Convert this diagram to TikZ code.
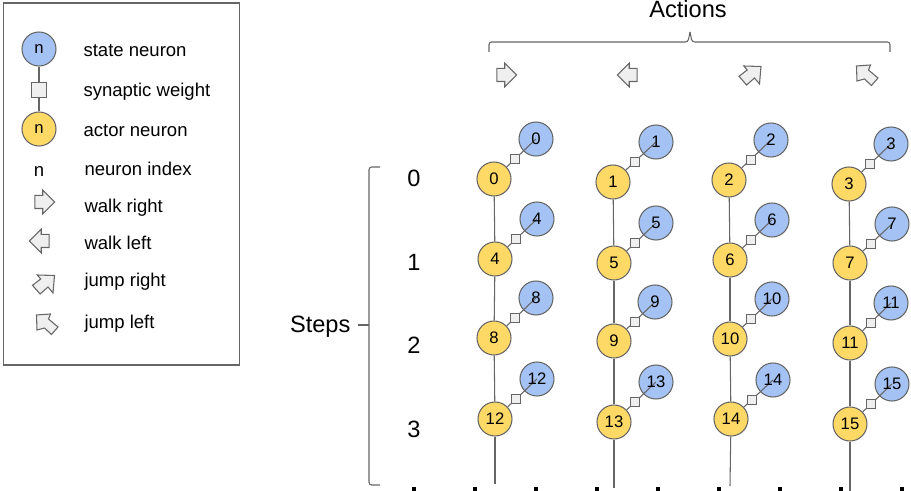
\documentclass[tikz,border=0pt]{standalone}
\usepackage{fontspec}
\setmainfont{Liberation Sans}
\usetikzlibrary{shapes.arrows}
\definecolor{stateblue}{HTML}{A4C2F4}
\definecolor{actoryellow}{HTML}{FFD966}
\definecolor{weightgray}{HTML}{EFEFEF}
\definecolor{linegray}{HTML}{666666}
\begin{document}
\begin{tikzpicture}[x=0.75pt,y=-0.75pt,
                      line width=0.8pt,
                      state node/.style={circle,fill=stateblue,draw=linegray,inner sep=0pt,minimum size=25.5pt},
                      actor node/.style={circle,fill=actoryellow,draw=linegray,inner sep=0pt,minimum size=25.5pt,font=\fontsize{12.5}{14}\selectfont},
                      weight node/.style={rectangle,fill=weightgray,draw=linegray,inner sep=0pt,minimum size=7pt},
                      big weight node/.style={rectangle,fill=weightgray,draw=linegray,inner sep=0pt,minimum size=11.5pt},
                      move arrow/.style={single arrow,fill=weightgray,draw=linegray,inner xsep=0pt,inner ysep=4.5pt,minimum height=14.8pt,minimum width=17pt,single arrow head extend=4pt},
                      jump right/.pic={\draw[fill=weightgray,draw=linegray] (11,-9.5) -- (-6.2,-10) -- (-2.8,-6) -- (-11,0.3) -- (-3.4,9) -- (4.5,2) -- (9.5,8) -- cycle;},
                      jump left/.pic={\draw[fill=weightgray,draw=linegray] (-10.5,-10) -- (3.5,-11) -- (1.5,-6) -- (11,2) -- (4.5,9.5) -- (-2.5,3) -- (-10,5) -- cycle;},
                      index text/.style={inner sep=0pt,font=\fontsize{12.5}{14}\selectfont},
                      legend text/.style={anchor=base west,inner sep=0pt,font=\fontsize{13.9}{16}\selectfont},
                      big text/.style={inner sep=0pt,font=\fontsize{17.7}{20}\selectfont},
                      bracket/.style={draw=linegray,rounded corners=2pt},
                      dot mark/.style={rectangle,fill=black,inner sep=0pt,minimum width=3pt,minimum height=3.5pt}
                     ]
   \useasboundingbox (0,0) rectangle (911,491);
   % legend
   \node[draw=linegray,fill=white,minimum width=176.5pt,minimum height=271.5pt,inner sep=0pt] (legend) at (121.5,184) {};
   \node[state node] (ln1) at (39,49) {\fontsize{12.5}{14}\selectfont n};
   \node[big weight node] (lw) at (39,90) {};
   \node[actor node] (ln2) at (39,129) {n};
   \path[draw=linegray]
     (ln1) edge (lw)
     (lw) edge (ln2);
   \node[legend text] (t1) at (83,56.7) {state neuron};
   \node[legend text] (t2) at (83,96.7) {synaptic weight};
   \node[legend text] (t3) at (83,136.7) {actor neuron};
   \node[legend text] (t4) at (84,176) {neuron index};
   \node[legend text] (t5) at (84,212.7) {walk right};
   \node[legend text] (t6) at (84,249.7) {walk left};
   \node[legend text] (t7) at (84,286.7) {jump right};
   \node[legend text] (t8) at (84,328.7) {jump left};
   \node[legend text,anchor=base] (tn) at (39,176.5) {n};
   \node[move arrow] (la1) at (41.5,202) {};
   \node[move arrow,rotate=180] (la2) at (42.5,241) {};
   \pic (la3) at (43.5,285) {jump right};
   \pic (la4) at (47,325) {jump left};
   % actions
   \node[big text,anchor=base] (actions) at (688,18) {Actions};
   \coordinate (al) at (489,52);
   \coordinate (am) at (690,32);
   \coordinate (ar) at (890,52);
   \draw[bracket] (al) |- (688,42) -- (am);
   \draw[bracket] (ar) |- (692,42) -- (am);
   \node[move arrow] (m1) at (503.5,75) {};
   \node[move arrow,rotate=180] (m2) at (630.5,75) {};
   \pic (m3) at (750,76) {jump right};
   \pic (m4) at (867,76) {jump left};
   % steps
   \node[big text,anchor=base west] (steps) at (289.5,333) {Steps};
   \coordinate (st) at (380,167);
   \coordinate (sb) at (380,485);
   \coordinate (sm) at (358,325);
   \draw[bracket] (st) -| (369,325) |- (sb);
   \draw[draw=linegray] (sm) -- (369,325);
   \node[big text] (r0) at (414,178) {0};
   \node[big text] (r1) at (414,262) {1};
   \node[big text] (r2) at (414,345) {2};
   \node[big text] (r3) at (414,429) {3};
   % free ends of the columns
   \coordinate (e0) at (495,484);
   \coordinate (e1) at (614,488);
   \coordinate (e2) at (730,486);
   \coordinate (e3) at (850,491);
   % state neurons
   \node[state node] (s0) at (536,139) {};
   \node[state node] (s1) at (656,142) {};
   \node[state node] (s2) at (771,140) {};
   \node[state node] (s3) at (891,144) {};
   \node[state node] (s4) at (537,219) {};
   \node[state node] (s5) at (656,223) {};
   \node[state node] (s6) at (772,220) {};
   \node[state node] (s7) at (892,224) {};
   \node[state node] (s8) at (536,298) {};
   \node[state node] (s9) at (655,302) {};
   \node[state node] (s10) at (772,299) {};
   \node[state node] (s11) at (891,303) {};
   \node[state node] (s12) at (537,379) {};
   \node[state node] (s13) at (656,382) {};
   \node[state node] (s14) at (773,380) {};
   \node[state node] (s15) at (892,384) {};
   % actor neurons
   \node[actor node] (a0) at (494,179) {0};
   \node[actor node] (a1) at (613,182) {1};
   \node[actor node] (a2) at (729,180) {2};
   \node[actor node] (a3) at (849,184) {3};
   \node[actor node] (a4) at (495,259) {4};
   \node[actor node] (a5) at (614,263) {5};
   \node[actor node] (a6) at (730,260) {6};
   \node[actor node] (a7) at (850,263) {7};
   \node[actor node] (a8) at (494,338) {8};
   \node[actor node] (a9) at (614,341) {9};
   \node[actor node] (a10) at (730,339) {10};
   \node[actor node] (a11) at (850,343) {11};
   \node[actor node] (a12) at (495,419) {12};
   \node[actor node] (a13) at (614,422) {13};
   \node[actor node] (a14) at (731,419) {14};
   \node[actor node] (a15) at (850,424) {15};
   \path[draw=linegray]
     (a0) edge (a4)
     (a4) edge (a8)
     (a8) edge (a12)
     (a12) edge (e0)
     (a1) edge (a5)
     (a5) edge (a9)
     (a9) edge (a13)
     (a13) edge (e1)
     (a2) edge (a6)
     (a6) edge (a10)
     (a10) edge (a14)
     (a14) edge (e2)
     (a3) edge (a7)
     (a7) edge (a11)
     (a11) edge (a15)
     (a15) edge (e3)
     (a0) edge (s0.center)
     (a1) edge (s1.center)
     (a2) edge (s2.center)
     (a3) edge (s3.center)
     (a4) edge (s4.center)
     (a5) edge (s5.center)
     (a6) edge (s6.center)
     (a7) edge (s7.center)
     (a8) edge (s8.center)
     (a9) edge (s9.center)
     (a10) edge (s10.center)
     (a11) edge (s11.center)
     (a12) edge (s12.center)
     (a13) edge (s13.center)
     (a14) edge (s14.center)
     (a15) edge (s15.center);
   % synaptic weights
   \node[weight node] (w0) at (515,159) {};
   \node[weight node] (w1) at (635,162) {};
   \node[weight node] (w2) at (751,160) {};
   \node[weight node] (w3) at (870,164) {};
   \node[weight node] (w4) at (516,239) {};
   \node[weight node] (w5) at (635,243) {};
   \node[weight node] (w6) at (751,240) {};
   \node[weight node] (w7) at (871,244) {};
   \node[weight node] (w8) at (515,318) {};
   \node[weight node] (w9) at (635,322) {};
   \node[weight node] (w10) at (751,319) {};
   \node[weight node] (w11) at (871,323) {};
   \node[weight node] (w12) at (516,399) {};
   \node[weight node] (w13) at (635,402) {};
   \node[weight node] (w14) at (752,400) {};
   \node[weight node] (w15) at (871,404) {};
   % indices on top of the state neurons
   \node[index text] (n0) at (s0) {0};
   \node[index text] (n1) at (s1) {1};
   \node[index text] (n2) at (s2) {2};
   \node[index text] (n3) at (s3) {3};
   \node[index text] (n4) at (s4) {4};
   \node[index text] (n5) at (s5) {5};
   \node[index text] (n6) at (s6) {6};
   \node[index text] (n7) at (s7) {7};
   \node[index text] (n8) at (s8) {8};
   \node[index text] (n9) at (s9) {9};
   \node[index text] (n10) at (s10) {10};
   \node[index text] (n11) at (s11) {11};
   \node[index text] (n12) at (s12) {12};
   \node[index text] (n13) at (s13) {13};
   \node[index text] (n14) at (s14) {14};
   \node[index text] (n15) at (s15) {15};
   % marks cut off by the lower edge
   \node[dot mark] (d0) at (414,489) {};
   \node[dot mark] (d1) at (475,489) {};
   \node[dot mark] (d2) at (536,489) {};
   \node[dot mark] (d3) at (597,489) {};
   \node[dot mark] (d4) at (658,489) {};
   \node[dot mark] (d5) at (719,489) {};
   \node[dot mark] (d6) at (780,489) {};
   \node[dot mark] (d7) at (841,489) {};
   \node[dot mark] (d8) at (902,489) {};
\end{tikzpicture}
\end{document}
